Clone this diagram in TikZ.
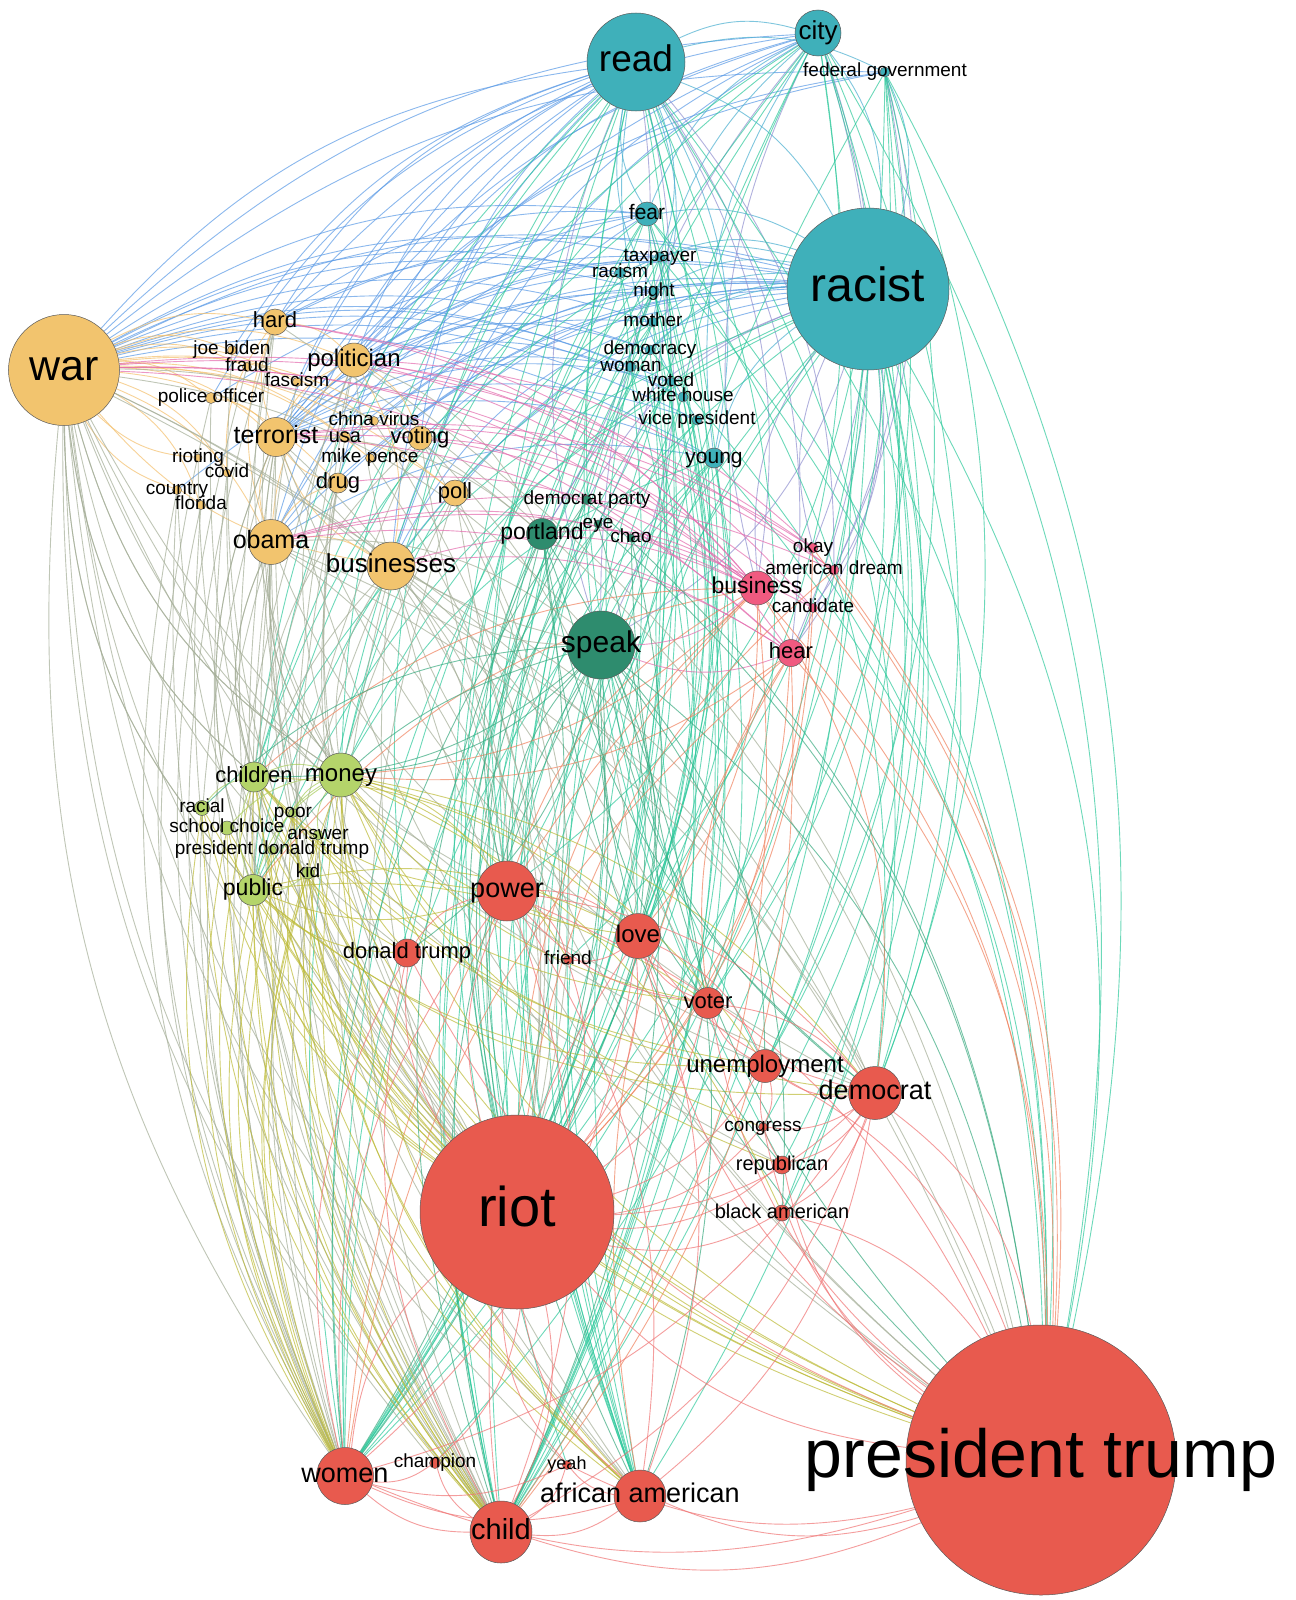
\documentclass[tikz,border=0pt]{standalone}
\usepackage{fontspec}
\setmainfont{Liberation Sans}
\usepackage{tikz}
\usetikzlibrary{backgrounds}
\definecolor{tealnode}{HTML}{3FB0BA}
\definecolor{ambernode}{HTML}{F2C46E}
\definecolor{pinenode}{HTML}{2E8C6E}
\definecolor{rosenode}{HTML}{F05A80}
\definecolor{limenode}{HTML}{B4D46A}
\definecolor{rednode}{HTML}{E85A4E}
\definecolor{linkblue}{HTML}{5A9AE6}
\definecolor{linkteal}{HTML}{4AAFD0}
\definecolor{linklav}{HTML}{9090D0}
\definecolor{linkaqua}{HTML}{2EC99C}
\definecolor{linkamber}{HTML}{F4C06C}
\definecolor{linkgrey}{HTML}{A5AE98}
\definecolor{linkpink}{HTML}{E46CAE}
\definecolor{linkcoral}{HTML}{F0825E}
\definecolor{linkolive}{HTML}{BDBB38}
\definecolor{linklime}{HTML}{A8CC5C}
\definecolor{linkgreen}{HTML}{3AAA80}
\definecolor{linksalmon}{HTML}{F07474}
% curved link: bows away from the middle, or either way when it runs near it
\newdimen\lkAx \newdimen\lkAy \newdimen\lkBx \newdimen\lkBy \newdimen\lkCx \newdimen\lkCy
\newcount\lkcnt
\newcommand{\lnk}[3]{%
  \pgfextractx{\lkAx}{\pgfpointanchor{#2}{center}}%
  \pgfextracty{\lkAy}{\pgfpointanchor{#2}{center}}%
  \pgfextractx{\lkBx}{\pgfpointanchor{#3}{center}}%
  \pgfextracty{\lkBy}{\pgfpointanchor{#3}{center}}%
  \pgfextractx{\lkCx}{\pgfpointanchor{ctr}{center}}%
  \pgfextracty{\lkCy}{\pgfpointanchor{ctr}{center}}%
  \pgfmathsetmacro\lkside{((\lkBx-\lkAx)/10)*((\lkCy-\lkAy)/10)-((\lkBy-\lkAy)/10)*((\lkCx-\lkAx)/10)}%
  \pgfmathsetmacro\lkdist{abs(\lkside)/veclen(\lkBx-\lkAx,\lkBy-\lkAy)*100}%
  \global\advance\lkcnt by 1
  \ifdim\lkdist pt<35pt
    \ifodd\lkcnt \def\lkside{1}\else\def\lkside{-1}\fi
  \fi
  \ifdim\lkside pt>0pt
    \draw[#1] (#2) to[bend right=20] (#3);
  \else
    \draw[#1] (#2) to[bend left=20] (#3);
  \fi}

\begin{document}
\begin{tikzpicture}[x=0.2pt, y=-0.2pt,
  wd/.style={circle, draw=black!65, line width=0.1pt, inner sep=0pt},
  dia/.style={minimum size=#1/5},
  tl/.style={wd, fill=tealnode}, og/.style={wd, fill=ambernode},
  dg/.style={wd, fill=pinenode}, pk/.style={wd, fill=rosenode},
  lg/.style={wd, fill=limenode}, rd/.style={wd, fill=rednode},
  lf/.style={font={\pgfmathsetmacro\lfsz{#1/5}\fontsize{\lfsz}{\lfsz}\selectfont},
    inner sep=0pt, text=black, text height=#1*0.144, text depth=#1*0.042},
  wire/.style={line width=0.18pt, draw opacity=0.7},
  bluelnk/.style={wire, draw=linkblue}, teallnk/.style={wire, draw=linkteal},
  lavlnk/.style={wire, draw=linklav}, aqualnk/.style={wire, draw=linkaqua},
  amberlnk/.style={wire, draw=linkamber}, greylnk/.style={wire, draw=linkgrey},
  pinklnk/.style={wire, draw=linkpink}, corallnk/.style={wire, draw=linkcoral},
  olivelnk/.style={wire, draw=linkolive}, limelnk/.style={wire, draw=linklime},
  greenlnk/.style={wire, draw=linkgreen}, salmonlnk/.style={wire, draw=linksalmon}]
\useasboundingbox (0,0) rectangle (1295,1600);
\coordinate (ctr) at (600,800);
% teal cluster
\node[tl, dia=98, label={[lf=37]center:read}] (read) at (636,62) {};
\node[tl, dia=46, label={[lf=26]center:city}] (city) at (818,33) {};
\node[tl, dia=10, label={[lf=19]center:federal government}] (fedgov) at (885,72) {};
\node[tl, dia=162, label={[lf=48]center:racist}] (racist) at (868,289) {};
\node[tl, dia=24, label={[lf=21]center:fear}] (fear) at (647,214) {};
\node[tl, dia=10, label={[lf=19]center:taxpayer}] (taxpayer) at (660,257) {};
\node[tl, dia=11, label={[lf=19]center:racism}] (racism) at (620,273) {};
\node[tl, dia=11, label={[lf=19]center:night}] (night) at (654,292) {};
\node[tl, dia=10, label={[lf=19]center:mother}] (mother) at (653,322) {};
\node[tl, dia=10, label={[lf=19]center:democracy}] (democracy) at (650,350) {};
\node[tl, dia=10, label={[lf=19]center:woman}] (woman) at (631,367) {};
\node[tl, dia=9, label={[lf=19]center:voted}] (voted) at (671,382) {};
\node[tl, dia=10, label={[lf=19]center:white house}] (whitehouse) at (683,397) {};
\node[tl, dia=10, label={[lf=19]center:vice president}] (vicepres) at (697,420) {};
\node[tl, dia=20, label={[lf=21]center:young}] (young) at (714,458) {};
% amber cluster
\node[og, dia=111, label={[lf=43]center:war}] (war) at (64,370) {};
\node[og, dia=26, label={[lf=22]center:hard}] (hard) at (275,322) {};
\node[og, dia=9, label={[lf=19]center:joe biden}] (joebiden) at (232,350) {};
\node[og, dia=9, label={[lf=19]center:fraud}] (fraud) at (247,367) {};
\node[og, dia=34, label={[lf=24]center:politician}] (politician) at (354,360) {};
\node[og, dia=9, label={[lf=19]center:fascism}] (fascism) at (297,382) {};
\node[og, dia=11, label={[lf=19]center:police officer}] (policeofficer) at (211,398) {};
\node[og, dia=39, label={[lf=25]center:terrorist}] (terrorist) at (276,437) {};
\node[og, dia=9, label={[lf=19]center:china virus}] (chinavirus) at (374,421) {};
\node[og, dia=11, label={[lf=20]center:usa}] (usa) at (345,437) {};
\node[og, dia=24, label={[lf=22]center:voting}] (voting) at (420,438) {};
\node[og, dia=8, label={[lf=19]center:rioting}] (rioting) at (198,458) {};
\node[og, dia=8, label={[lf=19]center:covid}] (covid) at (227,473) {};
\node[og, dia=9, label={[lf=19]center:mike pence}] (mikepence) at (370,458) {};
\node[og, dia=20, label={[lf=22]center:drug}] (drug) at (338,483) {};
\node[og, dia=26, label={[lf=22]center:poll}] (poll) at (455,493) {};
\node[og, dia=9, label={[lf=19]center:country}] (country) at (177,490) {};
\node[og, dia=9, label={[lf=19]center:florida}] (florida) at (201,505) {};
\node[og, dia=45, label={[lf=25]center:obama}] (obama) at (271,542) {};
\node[og, dia=48, label={[lf=26]center:businesses}] (businesses) at (391,566) {};
% pine cluster
\node[dg, dia=9, label={[lf=19]center:democrat party}] (democratparty) at (587,500) {};
\node[dg, dia=31, label={[lf=23]center:portland}] (portland) at (542,534) {};
\node[dg, dia=8, label={[lf=19]center:eye}] (eye) at (598,524) {};
\node[dg, dia=8, label={[lf=19]center:chao}] (chao) at (631,538) {};
\node[dg, dia=68, label={[lf=30]center:speak}] (speak) at (601,645) {};
% rose cluster
\node[pk, dia=10, label={[lf=19]center:okay}] (okay) at (813,548) {};
\node[pk, dia=10, label={[lf=19]center:american dream}] (americandream) at (834,570) {};
\node[pk, dia=34, label={[lf=23]center:business}] (business) at (757,588) {};
\node[pk, dia=9, label={[lf=19]center:candidate}] (candidate) at (813,608) {};
\node[pk, dia=27, label={[lf=22]center:hear}] (hear) at (791,653) {};
% lime cluster
\node[lg, dia=30, label={[lf=22]center:children}] (children) at (254,777) {};
\node[lg, dia=44, label={[lf=24]center:money}] (money) at (341,775) {};
\node[lg, dia=15, label={[lf=19]center:racial}] (racial) at (202,808) {};
\node[lg, dia=9, label={[lf=19]center:poor}] (poor) at (293,813) {};
\node[lg, dia=14, label={[lf=19]center:school choice}] (schoolchoice) at (227,828) {};
\node[lg, dia=10, label={[lf=19]center:answer}] (answer) at (318,835) {};
\node[lg, dia=9, label={[lf=19]center:president donald trump}] (pdt) at (272,850) {};
\node[lg, dia=12, label={[lf=19]center:kid}] (kid) at (308,873) {};
\node[lg, dia=31, label={[lf=23]center:public}] (public) at (253,890) {};
% red cluster
\node[rd, dia=60, label={[lf=27]center:power}] (power) at (507,891) {};
\node[rd, dia=28, label={[lf=22]center:donald trump}] (donaldtrump) at (407,953) {};
\node[rd, dia=9, label={[lf=19]center:friend}] (friend) at (568,960) {};
\node[rd, dia=45, label={[lf=24]center:love}] (love) at (638,936) {};
\node[rd, dia=31, label={[lf=22]center:voter}] (voter) at (708,1003) {};
\node[rd, dia=33, label={[lf=24]center:unemployment}] (unemployment) at (765,1066) {};
\node[rd, dia=53, label={[lf=27]center:democrat}] (democrat) at (875,1093) {};
\node[rd, dia=9, label={[lf=19]center:congress}] (congress) at (763,1127) {};
\node[rd, dia=18, label={[lf=20]center:republican}] (republican) at (782,1165) {};
\node[rd, dia=16, label={[lf=20]center:black american}] (blackamerican) at (782,1213) {};
\node[rd, dia=194, label={[lf=56]center:riot}] (riot) at (517,1212) {};
\node[rd, dia=270, label={[lf=68]center:president trump}] (pt) at (1041,1460) {};
\node[rd, dia=57, label={[lf=27]center:women}] (women) at (345,1476) {};
\node[rd, dia=11, label={[lf=19]center:champion}] (champion) at (435,1463) {};
\node[rd, dia=9, label={[lf=18]center:yeah}] (yeah) at (567,1465) {};
\node[rd, dia=52, label={[lf=27]center:african american}] (africanamerican) at (640,1496) {};
\node[rd, dia=62, label={[lf=29]center:child}] (child) at (501,1532) {};
\begin{scope}[on background layer]
\fill[white] (0,0) rectangle (1295,1600);
% teal to amber
\foreach \a/\b in {read/war, read/hard, read/politician, read/terrorist, read/obama, read/businesses, read/policeofficer, read/voting, read/joebiden, read/fascism, read/drug, racist/war, racist/hard, racist/politician, racist/terrorist, racist/obama, racist/businesses, racist/policeofficer, racist/voting, racist/poll, racist/drug, racist/usa, racist/mikepence, racist/chinavirus, racist/country, city/war, city/politician, city/terrorist, city/hard, city/obama, city/businesses, city/voting, fedgov/war, fedgov/terrorist, fedgov/politician, fear/war, fear/terrorist, fear/politician, fear/obama, fear/businesses, fear/hard, taxpayer/war, taxpayer/terrorist, taxpayer/politician, racism/war, racism/terrorist, racism/hard, night/war, night/terrorist, night/obama, mother/war, mother/terrorist, mother/businesses, democracy/war, democracy/politician, woman/war, woman/terrorist, voted/war, voted/terrorist, whitehouse/war, whitehouse/politician, vicepres/war, vicepres/terrorist, young/war, young/terrorist, young/obama}
  {\lnk{bluelnk}{\a}{\b}}
% teal among itself
\foreach \a/\b in {read/racist, read/city, city/racist, fear/racist, read/fear, read/young, racist/young, racist/taxpayer, racist/night, racist/mother, racist/democracy, read/taxpayer, read/night, read/mother, city/fear, fedgov/racist, read/vicepres, racist/racism, city/mother, fedgov/read, city/young, racist/woman}
  {\lnk{teallnk}{\a}{\b}}
% teal to pine and rose
\foreach \a/\b in {read/speak, racist/speak, city/speak, read/portland, racist/portland, fear/speak, racist/democratparty, read/eye, racist/business, read/business, city/business, racist/hear, read/hear, city/okay, racist/okay, read/americandream, racist/candidate, fedgov/americandream, city/hear, fedgov/hear}
  {\lnk{lavlnk}{\a}{\b}}
% teal to red and lime
\foreach \a/\b in {racist/riot, racist/pt, racist/democrat, racist/power, racist/love, racist/voter, racist/unemployment, racist/africanamerican, racist/child, racist/women, racist/donaldtrump, racist/republican, racist/blackamerican, read/riot, read/pt, read/power, read/africanamerican, read/child, read/women, read/love, read/democrat, city/pt, city/riot, city/democrat, city/africanamerican, city/love, city/voter, city/unemployment, fedgov/pt, fedgov/riot, fedgov/democrat, fedgov/child, fear/riot, fear/pt, fear/power, fear/child, young/riot, young/pt, young/africanamerican, taxpayer/riot, taxpayer/pt, night/riot, night/women, mother/riot, mother/child, democracy/pt, democracy/riot, vicepres/riot, vicepres/africanamerican, whitehouse/riot, voted/riot, racism/child, woman/africanamerican, racist/money, read/money, racist/public, read/children, city/money, fear/public, taxpayer/women, taxpayer/child, night/child, night/africanamerican, mother/women, mother/africanamerican, democracy/women, democracy/child, woman/child, voted/child, voted/women, whitehouse/africanamerican, whitehouse/child, vicepres/women, young/child, young/women, fear/women, fear/africanamerican, city/child, city/women, fedgov/women, fedgov/africanamerican, racism/women, racism/riot, read/voter, read/unemployment, racist/congress, read/republican, city/blackamerican, fedgov/unemployment, fedgov/voter, young/power, young/love, mother/power, night/love, taxpayer/voter, fear/love, fear/democrat, racist/friend, read/donaldtrump, racist/champion, read/yeah, racist/children, read/public, city/children, young/money, night/money, mother/public, taxpayer/children}
  {\lnk{aqualnk}{\a}{\b}}
% amber among itself
\foreach \a/\b in {war/hard, war/politician, war/terrorist, war/obama, war/businesses, war/policeofficer, war/rioting, war/covid, war/country, war/florida, war/drug, war/voting, war/poll, war/joebiden, war/fraud, war/fascism, war/usa, war/mikepence, war/chinavirus, hard/terrorist, politician/terrorist, terrorist/obama, terrorist/drug, politician/businesses, obama/businesses, hard/obama, terrorist/businesses, policeofficer/terrorist, hard/politician, politician/voting, terrorist/poll, obama/drug, hard/covid, politician/obama}
  {\lnk{amberlnk}{\a}{\b}}
% amber, pine and lime to red and amber
\foreach \a/\b in {war/riot, war/women, war/child, war/pt, war/power, war/africanamerican, war/democrat, war/love, war/donaldtrump, war/voter, war/unemployment, terrorist/riot, terrorist/women, terrorist/child, terrorist/pt, terrorist/power, obama/riot, obama/women, obama/child, obama/pt, obama/africanamerican, businesses/riot, businesses/child, businesses/women, businesses/pt, businesses/power, politician/riot, politician/pt, politician/women, hard/riot, hard/child, drug/riot, drug/women, poll/riot, poll/pt, voting/riot, voting/pt, policeofficer/riot, policeofficer/women, country/women, country/child, rioting/riot, florida/women, covid/child, speak/war, speak/terrorist, speak/obama, portland/war, portland/politician, speak/businesses, portland/terrorist, money/war, money/terrorist, money/obama, children/war, children/obama, public/war, money/businesses, public/terrorist, hard/pt, politician/child, obama/power, obama/love, terrorist/africanamerican, businesses/africanamerican, voting/women, drug/child, poll/women, poll/child, chinavirus/riot, usa/riot, mikepence/riot, joebiden/riot, fraud/women, fascism/child, covid/riot, florida/child, country/riot, war/champion, war/yeah, politician/love, voting/love, hard/women, businesses/democrat, terrorist/democrat, obama/democrat, war/republican, war/public, war/children, war/money, terrorist/public, obama/money, obama/children, politician/money, hard/money, businesses/public, voting/children}
  {\lnk{greylnk}{\a}{\b}}
% rose to amber and pine
\foreach \a/\b in {business/war, business/terrorist, business/politician, business/hard, business/obama, business/drug, business/voting, hear/war, hear/terrorist, hear/obama, hear/businesses, okay/war, okay/politician, americandream/war, americandream/terrorist, candidate/war, candidate/obama, business/businesses, hear/politician, okay/terrorist, candidate/hard, americandream/obama, business/speak, business/portland, hear/speak}
  {\lnk{pinklnk}{\a}{\b}}
% rose to red and lime
\foreach \a/\b in {business/riot, business/pt, business/power, business/democrat, business/women, hear/riot, hear/pt, hear/child, hear/africanamerican, okay/riot, okay/pt, americandream/pt, americandream/riot, candidate/riot, candidate/pt, business/love, hear/voter, business/child, hear/women, business/money, business/public, hear/money, business/children}
  {\lnk{corallnk}{\a}{\b}}
% lime to red
\foreach \a/\b in {money/riot, money/pt, money/power, money/women, money/child, money/africanamerican, money/democrat, money/love, money/donaldtrump, children/riot, children/pt, children/women, children/child, children/africanamerican, public/riot, public/women, public/child, public/africanamerican, public/pt, public/power, racial/riot, racial/child, schoolchoice/riot, schoolchoice/women, pdt/riot, pdt/pt, kid/riot, kid/child, poor/riot, answer/riot, answer/women, money/voter, money/unemployment, children/power, public/love, kid/africanamerican, racial/women, poor/child, money/friend, children/democrat, public/democrat, money/republican, children/love, children/voter, public/voter, public/unemployment, money/blackamerican, money/congress, racial/pt, schoolchoice/pt, schoolchoice/child, pdt/women, pdt/child, kid/women, poor/women, answer/child, answer/pt, children/unemployment, kid/pt, poor/africanamerican, public/donaldtrump, children/donaldtrump}
  {\lnk{olivelnk}{\a}{\b}}
% lime among itself
\foreach \a/\b in {children/money, children/public, money/public, racial/children, schoolchoice/money, poor/money, answer/money, pdt/money, kid/public}
  {\lnk{limelnk}{\a}{\b}}
% pine to red and lime
\foreach \a/\b in {speak/riot, speak/pt, speak/power, speak/women, speak/child, speak/africanamerican, speak/democrat, speak/love, speak/voter, portland/riot, portland/pt, portland/women, eye/riot, chao/riot, democratparty/riot, speak/unemployment, portland/child, speak/money, speak/public, speak/donaldtrump, speak/republican, speak/blackamerican, portland/power, portland/love, portland/africanamerican, eye/pt, chao/pt, democratparty/pt, democratparty/women, eye/child, portland/democrat, speak/children, speak/racial}
  {\lnk{greenlnk}{\a}{\b}}
% red among itself
\foreach \a/\b in {riot/pt, riot/women, riot/child, riot/africanamerican, riot/power, riot/love, riot/democrat, riot/voter, riot/unemployment, riot/donaldtrump, riot/republican, riot/blackamerican, riot/congress, riot/friend, riot/champion, riot/yeah, pt/women, pt/child, pt/africanamerican, pt/power, pt/love, pt/democrat, pt/voter, pt/unemployment, pt/republican, pt/blackamerican, pt/congress, pt/donaldtrump, women/child, women/africanamerican, women/champion, women/yeah, women/power, women/love, women/democrat, child/africanamerican, child/yeah, child/power, child/love, child/democrat, africanamerican/yeah, africanamerican/power, africanamerican/democrat, africanamerican/love, power/love, power/donaldtrump, power/friend, power/voter, power/democrat, love/voter, love/unemployment, love/democrat, love/friend, voter/unemployment, voter/democrat, unemployment/democrat, unemployment/congress, unemployment/republican, democrat/republican, democrat/blackamerican, democrat/congress, donaldtrump/women, donaldtrump/child, champion/child, yeah/pt}
  {\lnk{salmonlnk}{\a}{\b}}
\end{scope}
\end{tikzpicture}
\end{document}
